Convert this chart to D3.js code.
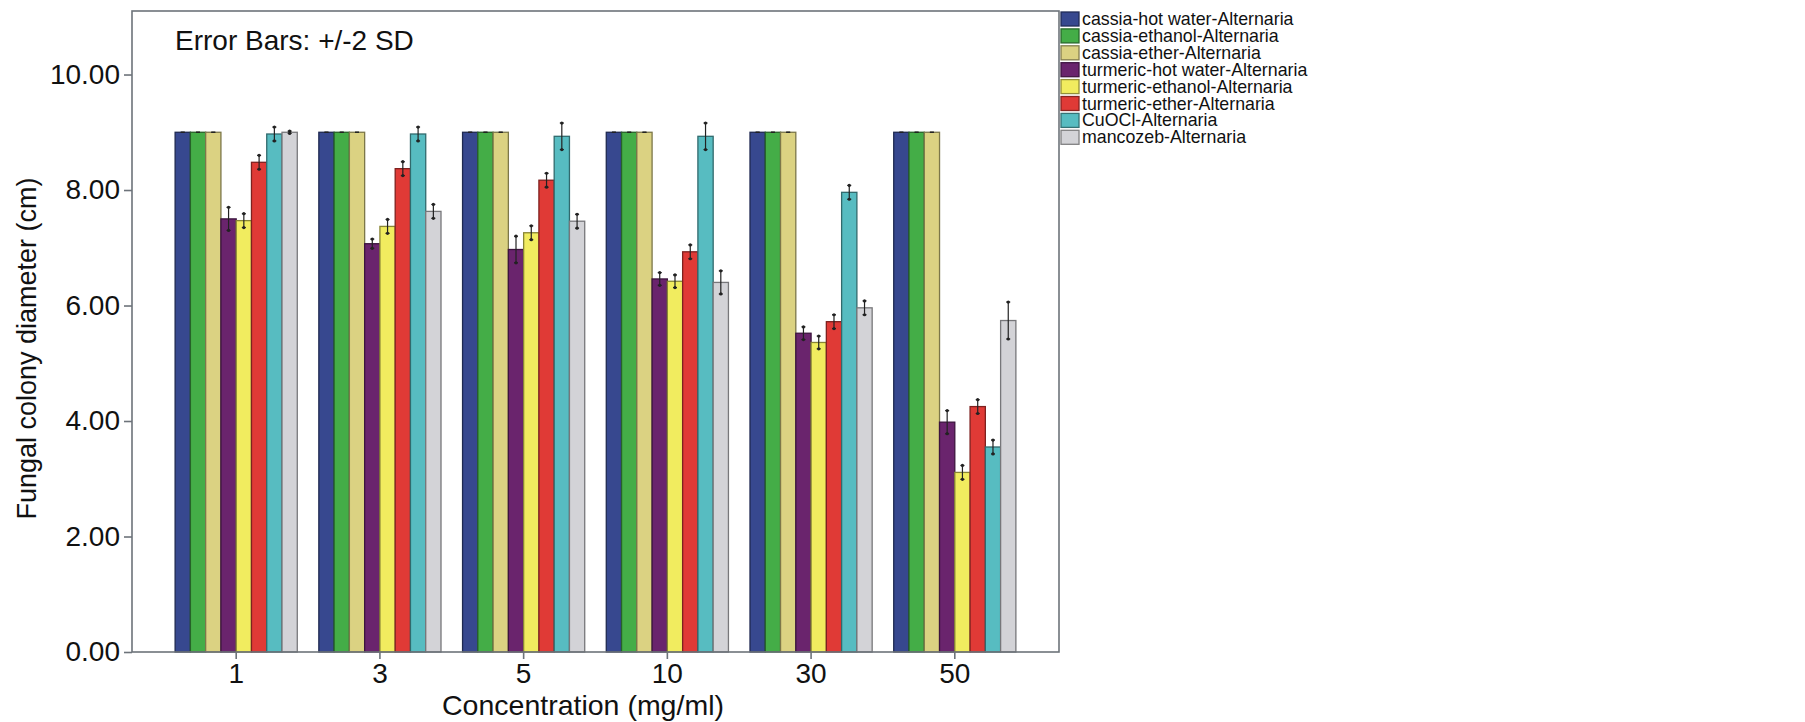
<!DOCTYPE html>
<html>
<head>
<meta charset="utf-8">
<script src="https://cdn.jsdelivr.net/npm/d3@7"></script>
<style>
  body { margin: 0; background: #fff; }
  svg { display: block; font-family: "Liberation Sans", Arial, sans-serif; }
</style>
</head>
<body>
<div id="chart"></div>
<script>
// concentrations on the x axis
const concentrations = ["1", "3", "5", "10", "30", "50"];

const seriesNames = [
    "cassia-hot water-Alternaria",
    "cassia-ethanol-Alternaria",
    "cassia-ether-Alternaria",
    "turmeric-hot water-Alternaria",
    "turmeric-ethanol-Alternaria",
    "turmeric-ether-Alternaria",
    "CuOCl-Alternaria",
    "mancozeb-Alternaria"
];

// mean colony diameter (cm), one value per concentration
const cassiaHotWater   = [9.00, 9.00, 9.00, 9.00, 9.00, 9.00];
const cassiaEthanol    = [9.00, 9.00, 9.00, 9.00, 9.00, 9.00];
const cassiaEther      = [9.00, 9.00, 9.00, 9.00, 9.00, 9.00];
const turmericHotWater = [7.50, 7.07, 6.97, 6.46, 5.52, 3.98];
const turmericEthanol  = [7.47, 7.37, 7.26, 6.42, 5.36, 3.11];
const turmericEther    = [8.48, 8.37, 8.17, 6.93, 5.72, 4.25];
const cuocl            = [8.97, 8.97, 8.93, 8.93, 7.96, 3.55];
const mancozeb         = [9.00, 7.63, 7.46, 6.40, 5.96, 5.74];

// half length of the error bars (2 SD)
const errCassiaHotWater   = [0.00, 0.00, 0.00, 0.00, 0.00, 0.00];
const errCassiaEthanol    = [0.00, 0.00, 0.00, 0.00, 0.00, 0.00];
const errCassiaEther      = [0.00, 0.00, 0.00, 0.00, 0.00, 0.00];
const errTurmericHotWater = [0.20, 0.08, 0.23, 0.11, 0.11, 0.20];
const errTurmericEthanol  = [0.12, 0.12, 0.12, 0.11, 0.11, 0.12];
const errTurmericEther    = [0.12, 0.12, 0.12, 0.12, 0.12, 0.12];
const errCuocl            = [0.12, 0.12, 0.23, 0.23, 0.12, 0.12];
const errMancozeb         = [0.02, 0.12, 0.12, 0.20, 0.12, 0.32];

const yTicks = [0, 2, 4, 6, 8, 10];

const seriesColors = ["#37488f", "#44ad47", "#dbd282", "#6a246d", "#f1ec5f", "#e03a36", "#57bcc1", "#d3d3d7"];

const means = [cassiaHotWater, cassiaEthanol, cassiaEther, turmericHotWater, turmericEthanol, turmericEther, cuocl, mancozeb];
const errs = [errCassiaHotWater, errCassiaEthanol, errCassiaEther, errTurmericHotWater, errTurmericEthanol, errTurmericEther, errCuocl, errMancozeb];

// flatten into rows so every bar comes from one record
const rows = [];
concentrations.forEach((c, i) => {
    seriesNames.forEach((s, j) => {
        rows.push({ conc: c, series: s, value: means[j][i], err: errs[j][i] });
    });
});

const width = 1805;
const height = 722;

// plot frame ("top" is taken by window, hence the prefix)
const plotLeft = 132, plotRight = 1059, plotTop = 11, plotBottom = 652;

const svg = d3.select("#chart")
    .append("svg")
    .attr("width", width)
    .attr("height", height)
    .attr("viewBox", `0 0 ${width} ${height}`);

const x = d3.scaleBand()
    .domain(concentrations)
    .range([plotLeft, plotRight])
    .paddingInner(0.15)
    .paddingOuter(0.3);

const xInner = d3.scaleBand()
    .domain(seriesNames)
    .range([0, x.bandwidth()]);

const y = d3.scaleLinear()
    .domain([0, 11.1])
    .range([plotBottom, plotTop]);

const color = d3.scaleOrdinal()
    .domain(seriesNames)
    .range(seriesColors);

// bars
svg.append("g")
    .selectAll("rect")
    .data(rows)
    .join("rect")
        .attr("x", d => x(d.conc) + xInner(d.series))
        .attr("y", d => y(d.value))
        .attr("width", xInner.bandwidth())
        .attr("height", d => y(0) - y(d.value))
        .attr("fill", d => color(d.series))
        .attr("stroke", d => d3.color(color(d.series)).darker(1.6))
        .attr("stroke-width", 1.3);

// error bars
const errG = svg.append("g")
    .selectAll("g")
    .data(rows)
    .join("g")
        .attr("transform", d => `translate(${x(d.conc) + xInner(d.series) + xInner.bandwidth() / 2},0)`);

errG.append("line")
    .attr("y1", d => y(d.value + d.err))
    .attr("y2", d => y(d.value - d.err))
    .attr("stroke", "#222")
    .attr("stroke-width", 1.2);

errG.selectAll("line.cap")
    .data(d => [d.value + d.err, d.value - d.err])
    .join("line")
        .attr("class", "cap")
        .attr("x1", -2)
        .attr("x2", 2)
        .attr("y1", v => y(v))
        .attr("y2", v => y(v))
        .attr("stroke", "#222")
        .attr("stroke-width", 1.2);

errG.selectAll("circle")
    .data(d => d.err > 0 ? [d.value + d.err, d.value - d.err] : [])
    .join("circle")
        .attr("cx", 0)
        .attr("cy", v => y(v))
        .attr("r", 1.6)
        .attr("fill", "#222");

// frame
svg.append("rect")
    .attr("x", plotLeft)
    .attr("y", plotTop)
    .attr("width", plotRight - plotLeft)
    .attr("height", plotBottom - plotTop)
    .attr("fill", "none")
    .attr("stroke", "#6d737a")
    .attr("stroke-width", 1.6);

// y axis
const yAxis = svg.append("g")
    .attr("transform", `translate(${plotLeft},0)`)
    .call(d3.axisLeft(y).tickValues(yTicks).tickFormat(d3.format(".2f")).tickSize(8).tickPadding(4));

// x axis
const xAxis = svg.append("g")
    .attr("transform", `translate(0,${plotBottom})`)
    .call(d3.axisBottom(x).tickSize(7).tickPadding(4));

[yAxis, xAxis].forEach(ax => {
    ax.select(".domain").remove();
    ax.selectAll(".tick line").attr("stroke", "#6d737a").attr("stroke-width", 1.6);
    ax.selectAll(".tick text")
        .attr("font-size", 28)
        .attr("font-family", "Liberation Sans, Arial, sans-serif")
        .attr("fill", "#111");
});

// axis titles
svg.append("text")
    .text("Concentration (mg/ml)")
    .attr("x", 583)
    .attr("y", 715)
    .attr("text-anchor", "middle")
    .attr("font-size", 28.5)
    .attr("fill", "#111");

svg.append("text")
    .text("Fungal colony diameter (cm)")
    .attr("transform", `translate(36,${(plotTop + plotBottom) / 2 + 17}) rotate(-90)`)
    .attr("text-anchor", "middle")
    .attr("font-size", 27)
    .attr("fill", "#111");

svg.append("text")
    .text("Error Bars: +/-2 SD")
    .attr("x", 175)
    .attr("y", 50)
    .attr("font-size", 28)
    .attr("fill", "#111");

// legend outside the frame on the right
const legend = svg.append("g")
    .attr("transform", `translate(${plotRight + 2},12)`);

const legendRow = legend.selectAll("g")
    .data(seriesNames)
    .join("g")
        .attr("transform", (d, i) => `translate(0,${i * 16.9})`);

legendRow.append("rect")
    .attr("width", 18)
    .attr("height", 14)
    .attr("fill", d => color(d))
    .attr("stroke", d => d3.color(color(d)).darker(1.4))
    .attr("stroke-width", 1.3);

legendRow.append("text")
    .text(d => d)
    .attr("x", 21)
    .attr("y", 13)
    .attr("font-size", 17.8)
    .attr("fill", "#111");
</script>
</body>
</html>
